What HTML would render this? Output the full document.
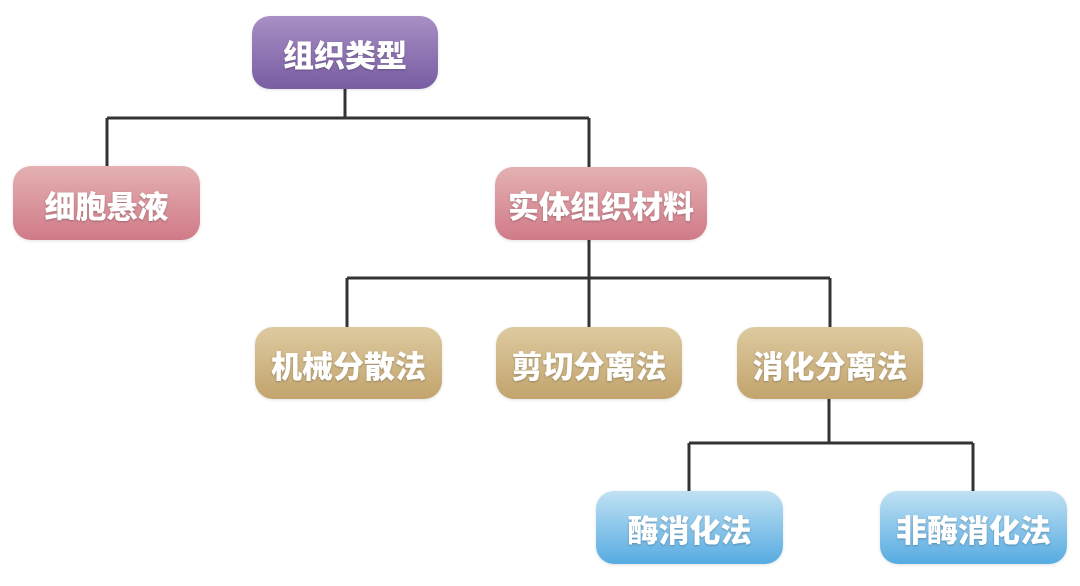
<!DOCTYPE html>
<html><head><meta charset="utf-8"><style>
html,body{margin:0;padding:0;background:#fff;}
body{width:1080px;height:586px;position:relative;overflow:hidden;font-family:"Liberation Sans","Noto Sans CJK SC",sans-serif;}
.b{position:absolute;border-radius:18px;color:#fff;font-weight:900;font-size:31px;display:flex;align-items:center;justify-content:center;text-shadow:0 1px 2px rgba(0,0,0,0.25);box-shadow:0 1px 3px rgba(0,0,0,0.12);letter-spacing:0px;padding-top:2px;box-sizing:border-box;}
.p{background:linear-gradient(#a88fc4,#785da2);}
.r{background:linear-gradient(#e4b1b2,#d07a88);}
.t{background:linear-gradient(#ddcaa0,#c2a46d);}
.u{background:linear-gradient(#c0e1f3,#56abe2);}
svg{position:absolute;left:0;top:0;}
</style></head><body>
<svg width="1080" height="586"><g stroke="#333" stroke-width="3" fill="none">
<path d="M345 89V118M107 118H589M107 118V166M589 118V167"/>
<path d="M589 240V278M347 278H830M347 278V327M589 278V327M830 278V327"/>
<path d="M829 399V443M689 443H973M689 443V491M973 443V491"/>
</g></svg>
<div class="b p" style="left:252px;top:16px;width:186px;height:73px;">组织类型</div>
<div class="b r" style="left:13px;top:166px;width:187px;height:74px;">细胞悬液</div>
<div class="b r" style="left:495px;top:167px;width:212px;height:73px;">实体组织材料</div>
<div class="b t" style="left:255px;top:327px;width:187px;height:72px;">机械分散法</div>
<div class="b t" style="left:496px;top:327px;width:186px;height:72px;">剪切分离法</div>
<div class="b t" style="left:737px;top:327px;width:186px;height:72px;">消化分离法</div>
<div class="b u" style="left:596px;top:491px;width:187px;height:73px;">酶消化法</div>
<div class="b u" style="left:880px;top:491px;width:187px;height:73px;">非酶消化法</div>
</body></html>
